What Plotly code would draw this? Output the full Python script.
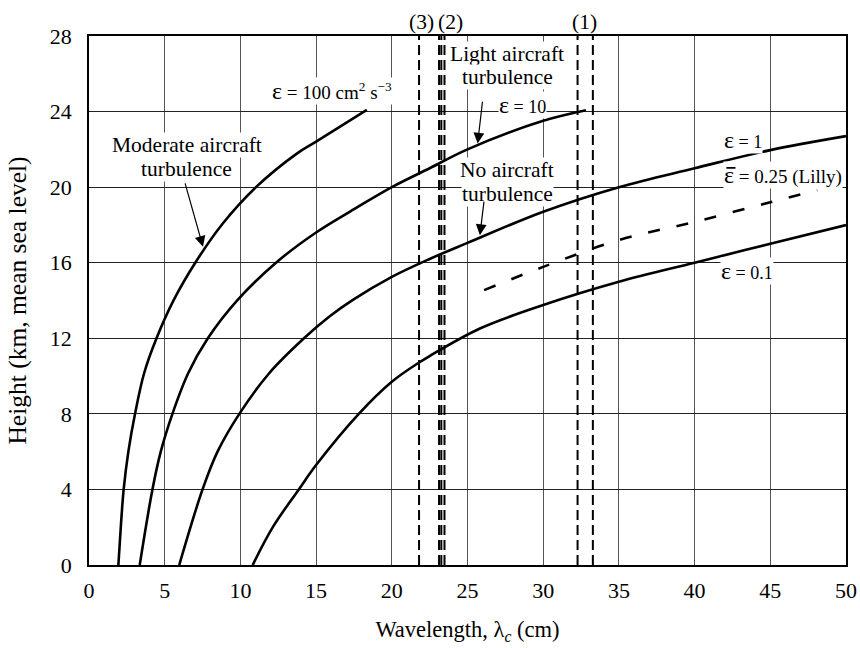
import plotly.graph_objects as go

# ---- data ----
eps100_x = [1.94, 2.1, 2.29, 2.6, 3.04, 3.64, 4.46, 5.6, 7.02, 8.85, 11.03, 13.68, 15.0, 18.35]
eps100_y = [0, 2, 4, 6, 8, 10.15, 12, 14.03, 16, 18.09, 20, 21.75, 22.41, 24.09]

eps10_x = [3.35, 4.19, 4.74, 5.51, 6.55, 7.85, 9.82, 12.35, 15.0, 17.65, 20.0, 22.5, 25, 30, 32.83]
eps10_y = [0, 4, 6, 8, 10.15, 12, 14.03, 16, 17.6, 18.9, 20.0, 21.0, 22.0, 23.51, 24.07]

eps1_x = [5.96, 7.5, 8.49, 9.93, 11.9, 14.2, 15.88, 17.43, 20.0, 22.5, 25, 30, 35, 40, 45, 50]
eps1_y = [0, 4, 6, 8, 10.15, 12, 13.15, 14.03, 15.25, 16.2, 17.05, 18.7, 20.0, 21.0, 21.96, 22.7]

eps01_x = [10.81, 12.16, 13.86, 15.0, 17.82, 20.0, 21.73, 22.5, 25.82, 30, 35, 40, 45, 50]
eps01_y = [0, 2.03, 4, 5.29, 8, 9.7, 10.68, 11.06, 12.52, 13.76, 14.99, 16.0, 17.0, 17.99]

lilly_x = [26.1, 30, 35, 40, 45, 48.1]
lilly_y = [14.55, 15.78, 17.2, 18.16, 19.2, 19.84]

vline_x = [21.8, 23.12, 23.27, 23.48, 32.27, 33.28]
vline_y = [0, 28]

x_ticks = [0, 5, 10, 15, 20, 25, 30, 35, 40, 45, 50]
y_ticks = [0, 4, 8, 12, 16, 20, 24, 28]

FONT = "Liberation Serif"
EPS = '<span style="font-size:24px">ε</span>'

fig = go.Figure()

for xv in vline_x:
    fig.add_trace(go.Scatter(x=[xv, xv], y=vline_y, mode="lines",
                             line=dict(color="black", width=2, dash="10px,5px"),
                             hoverinfo="skip", showlegend=False))

for xs, ys in [(eps100_x, eps100_y), (eps10_x, eps10_y), (eps1_x, eps1_y), (eps01_x, eps01_y)]:
    fig.add_trace(go.Scatter(x=xs, y=ys, mode="lines",
                             line=dict(color="black", width=2.6, shape="spline", smoothing=1.0),
                             showlegend=False))

fig.add_trace(go.Scatter(x=lilly_x, y=lilly_y, mode="lines",
                         line=dict(color="black", width=2.6, dash="12px,17px", shape="spline"),
                         showlegend=False))

ann = []
def txt(x, y, t, size=21.5, bg="white"):
    ann.append(dict(x=x, y=y, xref="x", yref="y", text=t, showarrow=False,
                    font=dict(family=FONT, size=size, color="black"),
                    bgcolor=bg, borderpad=0))

txt(16.02, 25.1, EPS + ' = 100 cm<sup>2</sup> s<sup>−3</sup>', size=19)
txt(6.46, 22.22, 'Moderate aircraft')
txt(6.46, 20.95, 'turbulence')
txt(27.64, 27.07, 'Light aircraft')
txt(27.64, 25.84, 'turbulence')
txt(28.6, 24.35, EPS + ' = 10', size=18)
txt(27.64, 20.9, 'No aircraft')
txt(27.64, 19.63, 'turbulence')
txt(43.2, 22.49, EPS + ' = 1', size=18)
txt(45.84, 20.63, EPS + ' = 0.25 (Lilly)', size=19)
txt(43.45, 15.57, EPS + ' = 0.1', size=18)

for xv, lab in [(21.97, '(3)'), (23.85, '(2)'), (32.76, '(1)')]:
    ann.append(dict(x=xv, y=1, xref="x", yref="paper", text=lab, showarrow=False,
                    yanchor="middle", yshift=14,
                    font=dict(family=FONT, size=21.5, color="black")))

arrows = [((6.32, 20.28), (7.53, 16.84)),
          ((26.0, 24.6), (25.67, 22.31)),
          ((26.1, 19.31), (25.82, 17.46))]
for (tx, ty), (hx, hy) in arrows:
    ann.append(dict(x=hx, y=hy, ax=tx, ay=ty, xref="x", yref="y", axref="x", ayref="y",
                    text="", showarrow=True, arrowhead=2, arrowsize=1.8, arrowwidth=1.2,
                    arrowcolor="black"))

# overbar on the epsilon of the Lilly label (drawn after the label so it sits on top)
ann.append(dict(x=42.7, y=21.02, ax=42.0, ay=21.02, xref="x", yref="y", axref="x", ayref="y",
                text="", showarrow=True, arrowhead=0, arrowwidth=1.6, standoff=0,
                startstandoff=0, arrowcolor="black"))

fig.update_layout(
    width=860, height=648,
    margin=dict(l=89, r=14, t=36, b=83, autoexpand=False),
    paper_bgcolor="white", plot_bgcolor="white",
    font=dict(family=FONT, size=22, color="black"),
    annotations=ann,
    showlegend=False,
)
fig.update_xaxes(range=[0, 50], tickvals=x_ticks, ticktext=[str(v) for v in x_ticks],
                 showgrid=True, gridcolor="#555", gridwidth=1, automargin=False,
                 showline=True, linecolor="black", linewidth=1.5, mirror=True,
                 ticks="", ticklabelstandoff=5, zeroline=False,
                 title=dict(text="Wavelength, λ<sub><i>c</i></sub> (cm)", font=dict(size=22.5), standoff=19))
fig.update_yaxes(range=[0, 28], tickvals=y_ticks, ticktext=[str(v) for v in y_ticks],
                 showgrid=True, gridcolor="#222", gridwidth=1, automargin=False,
                 showline=True, linecolor="black", linewidth=1.5, mirror=True,
                 ticks="", ticklabelstandoff=11, zeroline=False,
                 title=dict(text="Height (km, mean sea level)", font=dict(size=25.5), standoff=16))

fig.write_html("out.html", config={"displayModeBar": False},
               post_script="document.body.style.margin='0';")
